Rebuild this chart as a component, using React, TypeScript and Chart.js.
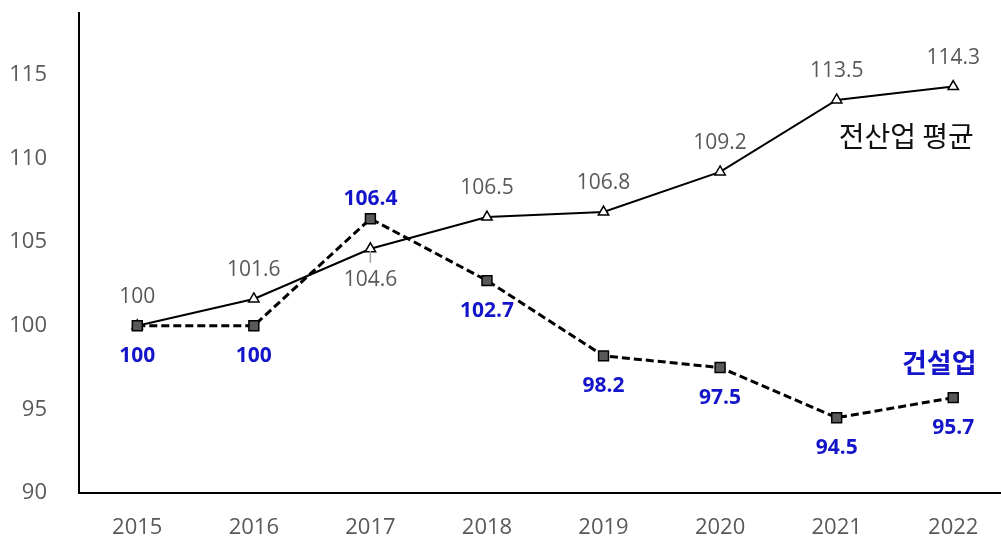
import { useEffect, useRef } from "react";
import { Chart, registerables } from "chart.js";

Chart.register(...registerables);

// Index values (2015 = 100)
const years = ["2015", "2016", "2017", "2018", "2019", "2020", "2021", "2022"];
const allIndustryAvg = [100, 101.6, 104.6, 106.5, 106.8, 109.2, 113.5, 114.3];
const construction = [100, 100, 106.4, 102.7, 98.2, 97.5, 94.5, 95.7];
const seriesNames = ["건설업", "전산업 평균"];
const yTicks = [90, 95, 100, 105, 110, 115];

const GRAY = "#595959";
const BLUE = "#1414C8";
const NUM_FONT = "'Open Sans', 'Noto Sans', sans-serif";
const KR_FONT = "'Noto Sans CJK KR', 'Noto Sans', sans-serif";

// Value labels: a series' label sits above its marker when that series is on top, below otherwise.
const valueLabels = {
  id: "valueLabels",
  afterDatasetsDraw(chart: any) {
    const ctx = chart.ctx as CanvasRenderingContext2D;
    const cMeta = chart.getDatasetMeta(0);
    const aMeta = chart.getDatasetMeta(1);
    ctx.save();
    ctx.textAlign = "center";
    ctx.textBaseline = "middle";
    years.forEach((_, i) => {
      const a = allIndustryAvg[i];
      const c = construction[i];
      const ap = aMeta.data[i];
      const cp = cMeta.data[i];
      const avgOnTop = a >= c;

      ctx.font = `21px ${NUM_FONT}`;
      ctx.fillStyle = GRAY;
      if (avgOnTop) {
        ctx.fillText(String(a), ap.x, ap.y - 29);
      } else {
        ctx.strokeStyle = "#a0a0a0";
        ctx.lineWidth = 1.5;
        ctx.beginPath();
        ctx.moveTo(ap.x, ap.y + 2);
        ctx.lineTo(ap.x, ap.y + 14);
        ctx.stroke();
        ctx.fillText(String(a), ap.x, ap.y + 31);
      }

      ctx.font = `bold 21px ${NUM_FONT}`;
      ctx.fillStyle = BLUE;
      if (avgOnTop) {
        ctx.fillText(String(c), cp.x, cp.y + 30);
      } else {
        ctx.fillText(String(c), cp.x, cp.y - 20);
      }
    });

    // Series names beside the last points
    const lastA = aMeta.data[years.length - 1];
    const lastC = cMeta.data[years.length - 1];
    ctx.font = `28px ${KR_FONT}`;
    ctx.fillStyle = "#111111";
    ctx.fillText(seriesNames[1], lastA.x - 47, lastA.y + 50);
    ctx.font = `bold 27px ${KR_FONT}`;
    ctx.fillStyle = BLUE;
    ctx.fillText(seriesNames[0], lastC.x - 14, lastC.y - 35);
    ctx.restore();
  },
};

export default function App() {
  const canvasRef = useRef<HTMLCanvasElement | null>(null);

  useEffect(() => {
    if (!canvasRef.current) return;
    const chart = new Chart(canvasRef.current, {
      type: "line",
      data: {
        labels: years,
        datasets: [
          {
            label: seriesNames[0],
            data: construction,
            borderColor: "#000000",
            borderWidth: 3,
            borderDash: [8, 4],
            pointStyle: "rect",
            pointRadius: 7,
            pointBackgroundColor: GRAY,
            pointBorderColor: "#000000",
            pointBorderWidth: 1.5,
            tension: 0,
          },
          {
            label: seriesNames[1],
            data: allIndustryAvg,
            borderColor: "#000000",
            borderWidth: 2,
            pointStyle: "triangle",
            pointRadius: 6,
            pointBackgroundColor: "#ffffff",
            pointBorderColor: "#000000",
            pointBorderWidth: 1.5,
            tension: 0,
          },
        ],
      },
      options: {
        responsive: false,
        animation: false,
        layout: { padding: { top: 13, left: 0, right: 0, bottom: 0 } },
        plugins: {
          legend: { display: false },
          tooltip: { enabled: false },
        },
        scales: {
          x: {
            offset: true,
            grid: { display: false, drawTicks: false },
            border: { display: true, color: "#000000", width: 2 },
            ticks: {
              color: GRAY,
              font: { family: NUM_FONT, size: 22 },
              padding: 22,
              maxRotation: 0,
              autoSkip: false,
            },
            afterFit(scale: any) {
              scale.height = 45;
              scale.paddingLeft = 0;
              scale.paddingRight = 0;
            },
          },
          y: {
            min: 90,
            max: 118.7,
            grid: { display: false, drawTicks: false },
            border: { display: true, color: "#000000", width: 2 },
            ticks: {
              color: GRAY,
              font: { family: NUM_FONT, size: 22 },
              padding: 32,
            },
            afterBuildTicks(scale: any) {
              scale.ticks = yTicks.map((v) => ({ value: v }));
            },
            afterFit(scale: any) {
              scale.width = 79;
              scale.paddingTop = 0;
              scale.paddingBottom = 0;
            },
          },
        },
      },
      plugins: [valueLabels],
    });
    return () => chart.destroy();
  }, []);

  return (
    <div style={{ position: "fixed", left: 0, top: 0, width: 1020, height: 538, background: "#ffffff" }}>
      <canvas ref={canvasRef} width={1020} height={538} style={{ display: "block" }} />
    </div>
  );
}
